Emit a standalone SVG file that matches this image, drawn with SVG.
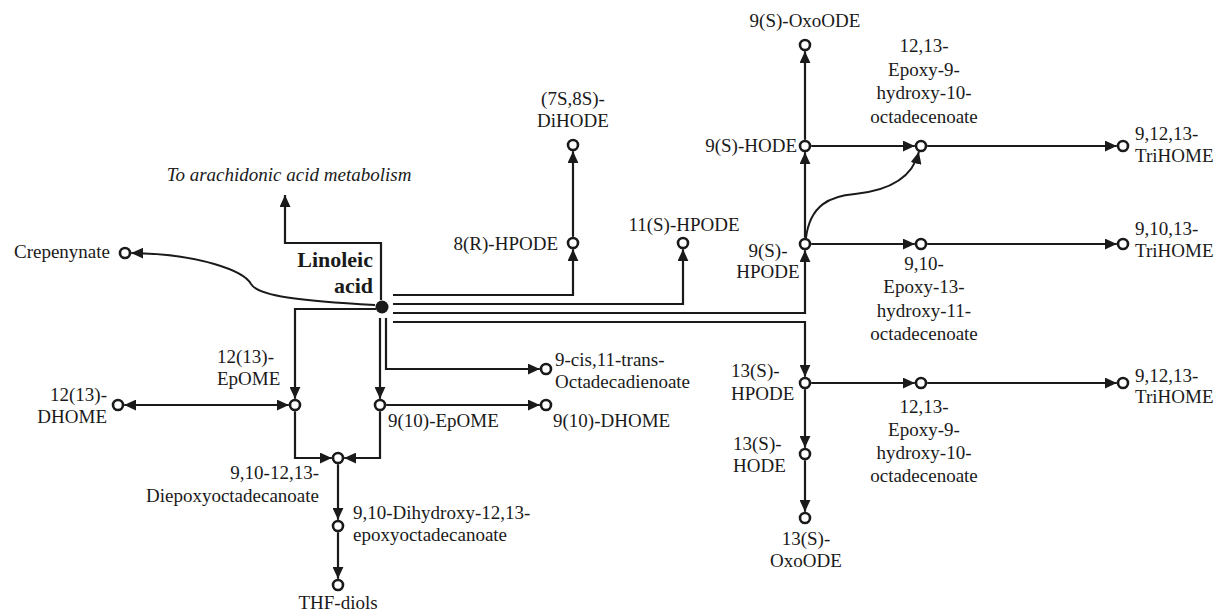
<svg xmlns="http://www.w3.org/2000/svg" width="1217" height="611" viewBox="0 0 1217 611">
<style>
.ln{fill:none;stroke:#1a1a1a;stroke-width:2.2;marker-end:url(#ah)}
.cv{fill:none;stroke:#1a1a1a;stroke-width:1.9;marker-end:url(#ah)}
.nd{fill:#fff;stroke:#1a1a1a;stroke-width:2.6}
text{font-family:"Liberation Serif","Times New Roman",serif;font-size:19px;fill:#1a1a1a}
.m{text-anchor:middle}.e{text-anchor:end}
.b{font-weight:bold;font-size:22px}
.i{font-style:italic}
</style>
<defs>
<marker id="ah" viewBox="0 0 12 11" refX="12" refY="5.5" markerWidth="12" markerHeight="11" markerUnits="userSpaceOnUse" orient="auto-start-reverse"><path d="M0,0 L12,5.5 L0,11 z" fill="#1a1a1a"/></marker>
</defs>
<rect width="1217" height="611" fill="#fff"/>
<g id="connectors">
<path class="ln" d="M381,300 V243 H285 V195"/>
<path class="cv" d="M375,305 C300,301 258,296 251,284 C244,271 200,254 131.2,253"/>
<path class="ln" d="M393,295 H573 V249.2"/>
<path class="ln" d="M573,236.8 V151.2"/>
<path class="ln" d="M393,304 H683 V249.2"/>
<path class="ln" d="M393,313 H805 V250.2"/>
<path class="ln" d="M393,322 H805 V376.8"/>
<path class="ln" d="M376,309 H295 V398.8"/>
<path class="ln" d="M380,318 V398.8"/>
<path class="ln" d="M386,318 V369 H539.8"/>
<path class="ln" style="marker-start:url(#ah)" d="M124.2,405 H288.8"/>
<path class="ln" d="M295,411.2 V458 H331.8"/>
<path class="ln" d="M380,411.2 V458 H344.2"/>
<path class="ln" d="M386.2,405 H539.8"/>
<path class="ln" d="M338,464.2 V519.8"/>
<path class="ln" d="M338,532.2 V578.8"/>
<path class="ln" d="M805,237.8 V152.2"/>
<path class="ln" d="M805,139.8 V51.2"/>
<path class="ln" d="M811.2,146 H914.8"/>
<path class="ln" d="M927.2,146 H1116.8"/>
<path class="ln" d="M811.2,244 H914.8"/>
<path class="ln" d="M927.2,244 H1116.8"/>
<path class="cv" d="M806,238 C810,205 830,196 855,194 C885,191 912,180 918.9,151.8"/>
<path class="ln" d="M811.2,383 H914.8"/>
<path class="ln" d="M927.2,383 H1116.8"/>
<path class="ln" d="M805,389.2 V447.8"/>
<path class="ln" d="M805,460.2 V511.8"/>
</g>
<g id="linoleic-acid"><circle cx="382" cy="307" r="6.5" fill="#1a1a1a"/><text class="b e" x="373" y="267">Linoleic</text><text class="b e" x="373" y="293">acid</text></g>
<g id="arachidonic"><text class="i m" x="289" y="181">To arachidonic acid metabolism</text></g>
<g id="crepenynate"><circle class="nd" cx="125" cy="253" r="5"/><text class="e" x="110" y="258">Crepenynate</text></g>
<g id="hpode8r"><circle class="nd" cx="573" cy="243" r="5"/><text class="e" x="558" y="250">8(R)-HPODE</text></g>
<g id="dihode"><circle class="nd" cx="573" cy="145" r="5"/><text class="m" x="573" y="105">(7S,8S)-</text><text class="m" x="573" y="127">DiHODE</text></g>
<g id="hpode11s"><circle class="nd" cx="683" cy="243" r="5"/><text class="m" x="684" y="231">11(S)-HPODE</text></g>
<g id="hpode9s"><circle class="nd" cx="805" cy="244" r="5"/><text class="m" x="768" y="257">9(S)-</text><text class="m" x="768" y="278">HPODE</text></g>
<g id="hode9s"><circle class="nd" cx="805" cy="146" r="5"/><text class="e" x="797" y="152">9(S)-HODE</text></g>
<g id="oxoode9s"><circle class="nd" cx="805" cy="45" r="5"/><text class="m" x="805" y="27">9(S)-OxoODE</text></g>
<g id="epoxy1213-a"><circle class="nd" cx="921" cy="146" r="5"/><text class="m" x="924" y="52">12,13-</text><text class="m" x="924" y="76">Epoxy-9-</text><text class="m" x="924" y="99">hydroxy-10-</text><text class="m" x="924" y="123">octadecenoate</text></g>
<g id="trihome-a"><circle class="nd" cx="1123" cy="146" r="5"/><text x="1135" y="140">9,12,13-</text><text x="1135" y="162">TriHOME</text></g>
<g id="epoxy910"><circle class="nd" cx="921" cy="244" r="5"/><text class="m" x="924" y="270">9,10-</text><text class="m" x="924" y="293">Epoxy-13-</text><text class="m" x="924" y="317">hydroxy-11-</text><text class="m" x="924" y="340">octadecenoate</text></g>
<g id="trihome-b"><circle class="nd" cx="1123" cy="244" r="5"/><text x="1135" y="235">9,10,13-</text><text x="1135" y="257">TriHOME</text></g>
<g id="hpode13s"><circle class="nd" cx="805" cy="383" r="5"/><text x="731" y="377">13(S)-</text><text x="731" y="400">HPODE</text></g>
<g id="hode13s"><circle class="nd" cx="805" cy="454" r="5"/><text x="733" y="450">13(S)-</text><text x="733" y="472">HODE</text></g>
<g id="oxoode13s"><circle class="nd" cx="805" cy="518" r="5"/><text class="m" x="806" y="545">13(S)-</text><text class="m" x="806" y="567">OxoODE</text></g>
<g id="epoxy1213-b"><circle class="nd" cx="921" cy="383" r="5"/><text class="m" x="924" y="413">12,13-</text><text class="m" x="924" y="436">Epoxy-9-</text><text class="m" x="924" y="459">hydroxy-10-</text><text class="m" x="924" y="482">octadecenoate</text></g>
<g id="trihome-c"><circle class="nd" cx="1123" cy="383" r="5"/><text x="1135" y="382">9,12,13-</text><text x="1135" y="403">TriHOME</text></g>
<g id="octadecadienoate"><circle class="nd" cx="546" cy="369" r="5"/><text x="555" y="366">9-cis,11-trans-</text><text x="555" y="388">Octadecadienoate</text></g>
<g id="epome910"><circle class="nd" cx="380" cy="405" r="5"/><text x="388" y="427">9(10)-EpOME</text></g>
<g id="dhome910"><circle class="nd" cx="546" cy="405" r="5"/><text x="553" y="427">9(10)-DHOME</text></g>
<g id="epome1213"><circle class="nd" cx="295" cy="405" r="5"/><text x="217" y="363">12(13)-</text><text x="217" y="385">EpOME</text></g>
<g id="dhome1213"><circle class="nd" cx="118" cy="405" r="5"/><text class="e" x="107" y="401">12(13)-</text><text class="e" x="107" y="423">DHOME</text></g>
<g id="diepoxy"><circle class="nd" cx="338" cy="458" r="5"/><text class="e" x="319" y="479">9,10-12,13-</text><text class="e" x="319" y="502">Diepoxyoctadecanoate</text></g>
<g id="dihydroxy"><circle class="nd" cx="338" cy="526" r="5"/><text x="353" y="519">9,10-Dihydroxy-12,13-</text><text x="353" y="541">epoxyoctadecanoate</text></g>
<g id="thf-diols"><circle class="nd" cx="338" cy="585" r="5"/><text class="m" x="338" y="609">THF-diols</text></g>
</svg>
